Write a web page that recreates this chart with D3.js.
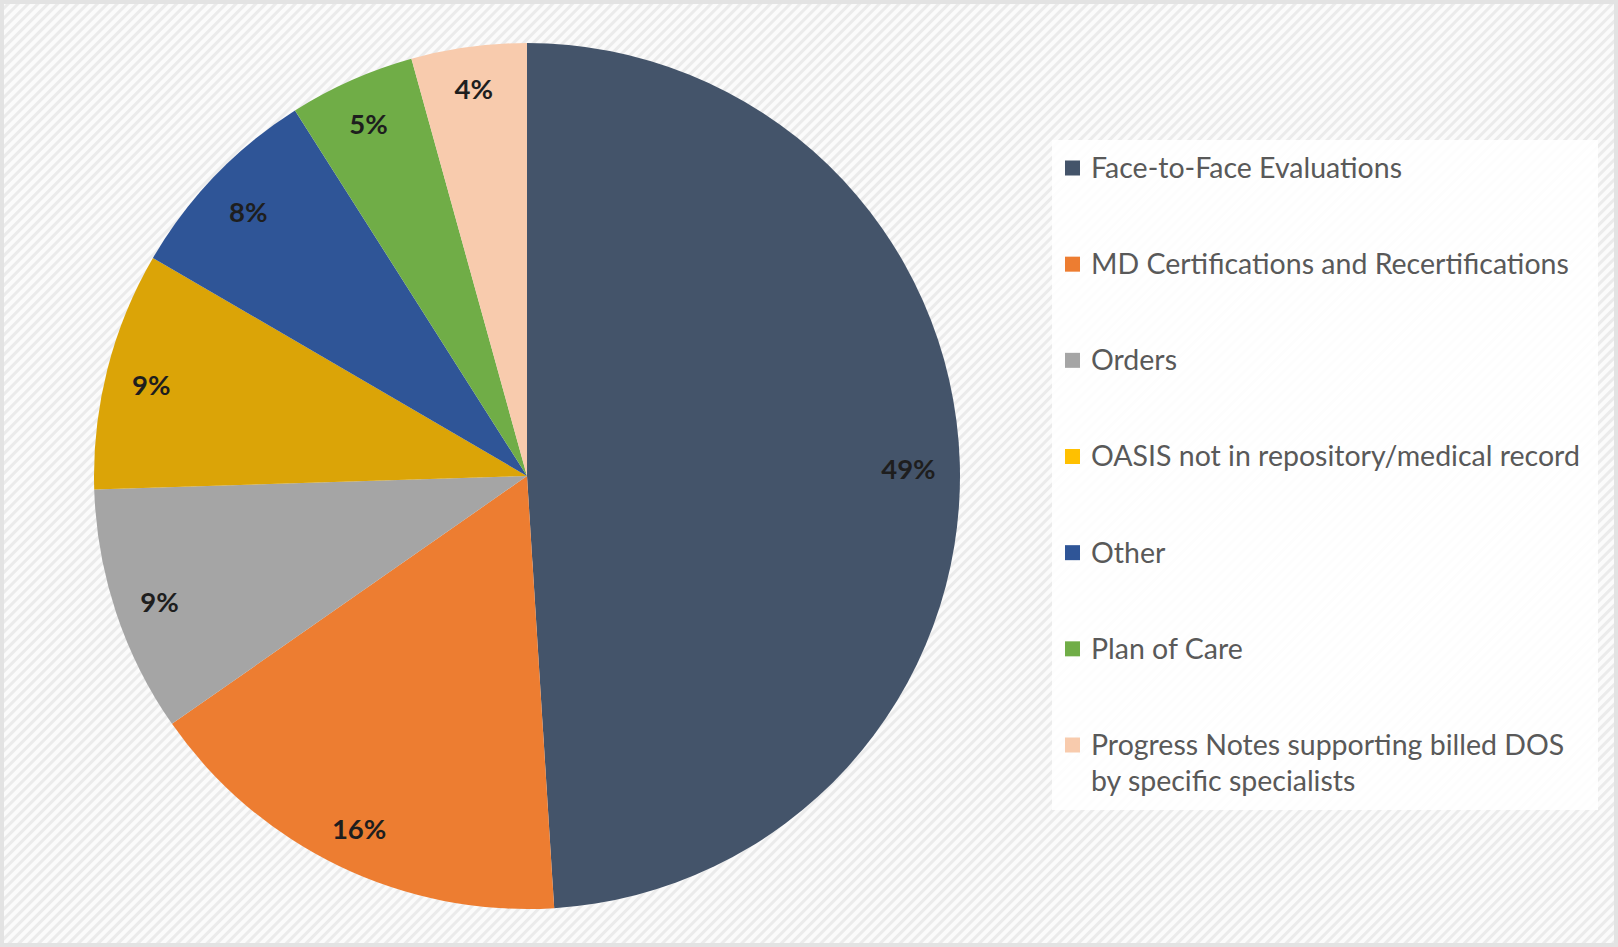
<!DOCTYPE html>
<html>
<head>
<meta charset="utf-8">
<script src="https://cdn.jsdelivr.net/npm/d3@7"></script>
<style>
  html, body { margin: 0; padding: 0; background: #ffffff; }
  svg { display: block; }
</style>
</head>
<body>
<svg id="chart" width="1618" height="947"></svg>
<script>
// ---- data ----
const categories = [
  "Face-to-Face Evaluations",
  "MD Certifications and Recertifications",
  "Orders",
  "OASIS not in repository/medical record",
  "Other",
  "Plan of Care",
  "Progress Notes supporting billed DOS by specific specialists"
];
const legendLines = [
  ["Face-to-Face Evaluations"],
  ["MD Certifications and Recertifications"],
  ["Orders"],
  ["OASIS not in repository/medical record"],
  ["Other"],
  ["Plan of Care"],
  ["Progress Notes supporting billed DOS", "by specific specialists"]
];
const values = [49.0, 16.3, 9.2, 8.9, 7.6, 4.7, 4.3];
const sliceColors = ["#44546A", "#ED7D31", "#A5A5A5", "#DBA407", "#2F5597", "#70AD47", "#F8CBAD"];
const legendColors = ["#44546A", "#ED7D31", "#A5A5A5", "#FFC000", "#2F5597", "#70AD47", "#F8CBAD"];

// ---- layout ----
const W = 1618, H = 947;
const cx = 527, cy = 476, R = 433;
const svg = d3.select("#chart");
const defs = svg.append("defs");

const pat = defs.append("pattern")
  .attr("id", "stripes").attr("patternUnits", "userSpaceOnUse")
  .attr("width", 7).attr("height", 7)
  .attr("patternTransform", "rotate(45)");
pat.append("rect").attr("width", 7).attr("height", 7).attr("fill", "#fbfbfb");
pat.append("rect").attr("width", 3).attr("height", 7).attr("fill", "#ebebeb");

svg.append("rect").attr("width", W).attr("height", H).attr("fill", "#e3e3e3");
svg.append("rect").attr("x", 4).attr("y", 4).attr("width", W - 8).attr("height", H - 8)
  .attr("fill", "url(#stripes)");

// legend white area
svg.append("rect").attr("x", 1052).attr("y", 140).attr("width", 546).attr("height", 670)
  .attr("fill", "#ffffff").attr("opacity", 0.9);

// ---- pie ----
const total = d3.sum(values);
const pie = d3.pie().sort(null).value(d => d)(values);
const arc = d3.arc().innerRadius(0).outerRadius(R);
const g = svg.append("g").attr("transform", `translate(${cx},${cy})`);

g.selectAll("path.slice").data(pie).join("path")
  .attr("class", "slice")
  .attr("d", arc)
  .attr("fill", (d, i) => sliceColors[i]);

const fmt = d3.format(".0%");
const labels = g.selectAll("text.lbl").data(pie).join("text")
  .attr("class", "lbl")
  .attr("font-family", "Lato, 'Open Sans', sans-serif")
  .attr("font-weight", "bold")
  .attr("font-size", 27.5)
  .attr("fill", "#1e1e1e")
  .attr("text-anchor", "middle")
  .attr("dominant-baseline", "central")
  .text(d => fmt(d.value / total));

const Rin = R * 0.945;
labels.each(function(d) {
  const a = (d.startAngle + d.endAngle) / 2;
  const ux = Math.sin(a), uy = -Math.cos(a);
  const bb = this.getBBox();
  const hw = bb.width / 2, hh = 12;
  const r = Rin - (hw * Math.abs(ux) + hh * Math.abs(uy));
  d3.select(this).attr("x", r * ux).attr("y", r * uy + 4);
});

// ---- legend ----
const leg = svg.append("g");
const rowY = d3.scalePoint().domain(d3.range(categories.length)).range([168, 745]);
const rows = leg.selectAll("g.row").data(categories).join("g")
  .attr("class", "row")
  .attr("transform", (d, i) => `translate(0,${rowY(i)})`);
rows.append("rect")
  .attr("x", 1065).attr("y", -7.5).attr("width", 15).attr("height", 15)
  .attr("fill", (d, i) => legendColors[i]);
rows.each(function(d, i) {
  const t = d3.select(this).append("text")
    .attr("x", 1091)
    .attr("font-family", "Lato, 'Open Sans', sans-serif")
    .attr("font-size", 28.5)
    .attr("fill", "#595959");
  legendLines[i].forEach((line, j) => {
    t.append("tspan").attr("x", 1091).attr("y", j * 36).attr("dy", "0.35em").text(line);
  });
});
</script>
</body>
</html>
